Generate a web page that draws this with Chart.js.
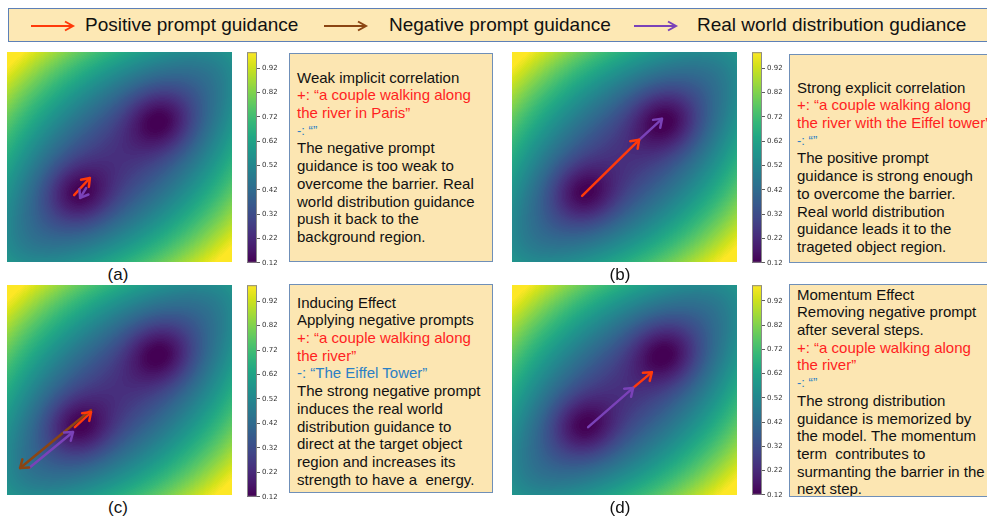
<!DOCTYPE html>
<html><head><meta charset="utf-8">
<script src="https://cdn.jsdelivr.net/npm/chart.js@4.4.1/dist/chart.umd.min.js"></script>
<style>
body{margin:0;width:987px;height:518px;overflow:hidden;position:relative;background:#fff;font-family:"Liberation Sans",Arial,Helvetica,sans-serif;}
.legend{position:absolute;left:8px;top:8px;width:1000px;height:34px;box-sizing:border-box;background:#fde8b4;border:1.5px solid #5d80b6;}
.item{position:absolute;top:8px;height:33px;line-height:33px;font-size:19px;color:#111;white-space:nowrap;}
.box{position:absolute;background:#fce6b2;border:1.5px solid #6f8fb8;font-size:15px;line-height:17.7px;color:#111;white-space:pre;box-sizing:border-box;padding-left:7px;overflow:hidden;}
.red{color:#ff1f1f}.blue{color:#2b80c5}.small{font-size:13px}
.tag{position:absolute;font-size:17px;width:40px;text-align:center;margin-left:-20px;line-height:18px;color:#111;}
canvas{position:absolute;}
svg{position:absolute;}
</style></head><body>
<div class="legend"></div>
<script>
// ---- data ----
const legendLabels = ['Positive prompt guidance', 'Negative prompt guidance', 'Real world distribution gudiance'];
const panelTags = ['(a)', '(b)', '(c)', '(d)'];
const colorbarTicks = [0.12, 0.22, 0.32, 0.42, 0.52, 0.62, 0.72, 0.82, 0.92];
const colorbarRange = [0.12, 0.985];

// energy landscape: a diagonal valley with two wells
const wellX = [-1.1, 1.1];
const wellY = [-1.05, 1.05];
const wellDepth = [0.17, 0.18];
const wellWidth = [0.6, 0.62];
const valleyFloor = 0.25;
const valleyWallSlope = 0.24;
const valleyRise = 0.018;
const contourStep = 0.01;

// guidance vectors per panel (a, b, c, d), in landscape coordinates
const positiveFrom = [[-1.21, -1.09], [-1.13, -1.11], [-1.19, -1.06], [0.23, 0.06]];
const positiveTo   = [[-0.79, -0.60], [0.39, 0.49], [-0.76, -0.63], [0.73, 0.51]];
const negativeFrom = [null, null, [-0.76, -0.57], null];
const negativeTo   = [null, null, [-2.65, -2.23], null];
const realFrom     = [[-0.89, -0.89], [0.39, 0.49], [-2.41, -2.23], [-0.97, -1.06]];
const realTo       = [[-1.05, -1.17], [1.00, 1.09], [-1.24, -1.20], [0.23, 0.06]];

// caption text per panel: [style, text]
const captionA = [['', 'Weak implicit correlation'], ['red', '+: \u201ca couple walking along'], ['red', 'the river in Paris\u201d'], ['blue small', '-: \u201c\u201d'],
  ['', 'The negative prompt'], ['', 'guidance is too weak to'], ['', 'overcome the barrier. Real'], ['', 'world distribution guidance'], ['', 'push it back to the'], ['', 'background region.']];
const captionB = [['', 'Strong explicit correlation'], ['red', '+: \u201ca couple walking along'], ['red', 'the river with the Eiffel tower\u201d'], ['blue small', '-: \u201c\u201d'],
  ['', 'The positive prompt'], ['', 'guidance is strong enough'], ['', 'to overcome the barrier.'], ['', 'Real world distribution'], ['', 'guidance leads it to the'], ['', 'trageted object region.']];
const captionC = [['', 'Inducing Effect'], ['', 'Applying negative prompts'], ['red', '+: \u201ca couple walking along'], ['red', 'the river\u201d'], ['blue', '-: \u201cThe Eiffel Tower\u201d'],
  ['', 'The strong negative prompt'], ['', 'induces the real world'], ['', 'distribution guidance to'], ['', 'direct at the target object'], ['', 'region and increases its'], ['', 'strength to have a  energy.']];
const captionD = [['', 'Momentum Effect'], ['', 'Removing negative prompt'], ['', 'after several steps.'], ['red', '+: \u201ca couple walking along'], ['red', 'the river\u201d'], ['blue small', '-: \u201c\u201d'],
  ['', 'The strong distribution'], ['', 'guidance is memorized by'], ['', 'the model. The momentum'], ['', 'term  contributes to'], ['', 'surmanting the barrier in the'], ['', 'next step.']];

// ---- layout & style ----
const guideColors = ['#ff3a0a', '#8b4513', '#7a42b8'];
const panelLayout = [
  {map: [7, 52, 225, 210], bar: [247, 52, 211], box: [289, 53, 204, 209, 14.6], tag: [118, 266], caption: captionA},
  {map: [512, 52, 225, 210], bar: [752, 52, 211], box: [789, 54, 215, 209, 23.6], tag: [620, 266], caption: captionB},
  {map: [7, 285, 225, 210], bar: [247, 285, 212], box: [289, 284, 204, 209, 8.6], tag: [118, 499], caption: captionC},
  {map: [512, 285, 225, 210], bar: [752, 285, 210], box: [789, 284, 215, 213, 0.6], tag: [620, 499], caption: captionD}
];
// page x of each legend arrow (start, end) and of its label
const legendArrowX = [[31, 73], [324, 366], [634, 676]];
const legendTextX = [85, 389, 697];

const viridisStops = ['#440154', '#481a6c', '#472f7d', '#414487', '#39568c', '#31688e', '#2a788e', '#23888e', '#1f988b',
  '#22a884', '#35b779', '#54c568', '#7ad151', '#a5db36', '#d2e21b', '#fde725'];
const viridisRGB = viridisStops.map(h => [1, 3, 5].map(i => parseInt(h.substr(i, 2), 16)));
function viridis(t) {
  t = Math.min(1, Math.max(0, t));
  const f = t * (viridisRGB.length - 1), i = Math.min(viridisRGB.length - 2, Math.floor(f)), u = f - i;
  const a = viridisRGB[i], b = viridisRGB[i + 1];
  return [a[0] + (b[0] - a[0]) * u, a[1] + (b[1] - a[1]) * u, a[2] + (b[2] - a[2]) * u];
}

function energy(x, y) {
  const d = (x - y) / Math.SQRT2, s = (x + y) / Math.SQRT2;
  let v = valleyFloor + valleyWallSlope * (Math.sqrt(d * d + 1) - 1) + valleyRise * s * s;
  for (let i = 0; i < wellX.length; i++) {
    const r2 = (x - wellX[i]) ** 2 + (y - wellY[i]) ** 2;
    v -= wellDepth[i] * Math.exp(-r2 / (2 * wellWidth[i] ** 2));
  }
  return v;
}

// ---- legend ----
const svgNS = 'http://www.w3.org/2000/svg';
legendLabels.forEach((label, i) => {
  const [x0, x1] = legendArrowX[i];
  const L = x1 - x0;
  const svg = document.createElementNS(svgNS, 'svg');
  svg.setAttribute('width', L + 4); svg.setAttribute('height', 20);
  svg.style.left = x0 + 'px'; svg.style.top = '16px';
  svg.innerHTML = `<line x1="0" y1="10" x2="${L}" y2="10" stroke="${guideColors[i]}" stroke-width="2"/>` +
    `<polyline points="${L - 8},5.5 ${L},10 ${L - 8},14.5" fill="none" stroke="${guideColors[i]}" stroke-width="2"/>`;
  document.body.appendChild(svg);
  const t = document.createElement('div');
  t.className = 'item'; t.textContent = label; t.style.left = legendTextX[i] + 'px';
  document.body.appendChild(t);
});

// ---- plugins ----
const fieldPlugin = {
  id: 'field',
  beforeDatasetsDraw(chart) {
    const {ctx, chartArea: a, scales: {x, y}} = chart;
    const w = Math.round(a.right - a.left), h = Math.round(a.bottom - a.top);
    const img = ctx.createImageData(w, h);
    const lo = colorbarRange[0], hi = colorbarRange[1];
    for (let py = 0; py < h; py++) {
      const vy = y.getValueForPixel(a.top + py + 0.5);
      for (let px = 0; px < w; px++) {
        const vx = x.getValueForPixel(a.left + px + 0.5);
        let v = energy(vx, vy);
        v = lo + (Math.floor((v - lo) / contourStep) + 0.5) * contourStep;
        const c = viridis((v - lo) / (hi - lo));
        const k = (py * w + px) * 4;
        img.data[k] = c[0]; img.data[k + 1] = c[1]; img.data[k + 2] = c[2]; img.data[k + 3] = 255;
      }
    }
    ctx.putImageData(img, Math.round(a.left), Math.round(a.top));
  }
};

const arrowHeadPlugin = {
  id: 'arrowHeads',
  afterDatasetsDraw(chart) {
    const ctx = chart.ctx;
    chart.data.datasets.forEach((ds, i) => {
      const pts = chart.getDatasetMeta(i).data;
      if (pts.length < 2) return;
      const p0 = pts[0], p1 = pts[1];
      const ang = Math.atan2(p1.y - p0.y, p1.x - p0.x);
      const len = 9, spread = Math.PI / 5;
      ctx.save();
      ctx.strokeStyle = ds.borderColor; ctx.lineWidth = ds.borderWidth; ctx.lineCap = 'round'; ctx.lineJoin = 'round';
      ctx.beginPath();
      ctx.moveTo(p1.x - len * Math.cos(ang - spread), p1.y - len * Math.sin(ang - spread));
      ctx.lineTo(p1.x, p1.y);
      ctx.lineTo(p1.x - len * Math.cos(ang + spread), p1.y - len * Math.sin(ang + spread));
      ctx.stroke();
      ctx.restore();
    });
  }
};

const barPlugin = {
  id: 'colorbar',
  beforeDatasetsDraw(chart) {
    const {ctx, chartArea: a, scales: {y}} = chart;
    const lo = colorbarRange[0], hi = colorbarRange[1];
    for (let py = Math.floor(a.top); py < Math.ceil(a.bottom); py++) {
      const v = y.getValueForPixel(py + 0.5);
      const c = viridis((v - lo) / (hi - lo));
      ctx.fillStyle = `rgb(${c[0] | 0},${c[1] | 0},${c[2] | 0})`;
      ctx.fillRect(a.left, py, a.right - a.left, 1);
    }
    ctx.strokeStyle = '#8a8a8a'; ctx.lineWidth = 1;
    ctx.strokeRect(a.left + 0.5, a.top + 0.5, a.right - a.left - 1, a.bottom - a.top - 1);
  }
};

function makeCanvas(left, top, w, h) {
  const c = document.createElement('canvas');
  c.width = w; c.height = h;
  c.style.left = left + 'px'; c.style.top = top + 'px';
  c.style.width = w + 'px'; c.style.height = h + 'px';
  document.body.appendChild(c);
  return c;
}

function segment(from, to, color) {
  return {data: [{x: from[0], y: from[1]}, {x: to[0], y: to[1]}], showLine: true, borderColor: color,
    borderWidth: 2.5, pointRadius: 0, borderCapStyle: 'round', clip: false};
}

panelLayout.forEach((p, k) => {
  // landscape with guidance arrows
  const [mx, my, mw, mh] = p.map;
  const datasets = [];
  if (negativeFrom[k]) datasets.push(segment(negativeFrom[k], negativeTo[k], guideColors[1]));
  datasets.push(segment(realFrom[k], realTo[k], guideColors[2]));
  datasets.push(segment(positiveFrom[k], positiveTo[k], guideColors[0]));
  new Chart(makeCanvas(mx, my, mw, mh), {
    type: 'scatter',
    data: {datasets},
    options: {
      responsive: false, animation: false, devicePixelRatio: 1,
      layout: {padding: 0},
      plugins: {legend: {display: false}, tooltip: {enabled: false}},
      scales: {x: {type: 'linear', min: -3, max: 3, display: false}, y: {type: 'linear', min: -3, max: 3, display: false}}
    },
    plugins: [fieldPlugin, arrowHeadPlugin]
  });

  // colour bar
  const [bx, by, bh] = p.bar;
  new Chart(makeCanvas(bx, by - 6, 45, bh + 12), {
    type: 'scatter',
    data: {datasets: []},
    options: {
      responsive: false, animation: false, devicePixelRatio: 1,
      layout: {padding: {top: 6, bottom: 6, left: 0, right: 0}},
      plugins: {legend: {display: false}, tooltip: {enabled: false}},
      scales: {
        x: {type: 'linear', min: 0, max: 1, display: false},
        y: {
          type: 'linear', position: 'right', min: colorbarRange[0], max: colorbarRange[1],
          afterBuildTicks: s => { s.ticks = colorbarTicks.map(v => ({value: v})); },
          afterFit: s => { s.width = 35; },
          ticks: {autoSkip: false, font: {size: 7, family: 'DejaVu Sans'}, color: '#333', padding: 2, callback: v => Number(v).toFixed(2)},
          grid: {drawOnChartArea: false, tickLength: 3, color: '#333', lineWidth: 0.8},
          border: {display: false}
        }
      }
    },
    plugins: [barPlugin]
  });

  // caption box
  const [tx, ty, tw, th, pt] = p.box;
  const box = document.createElement('div');
  box.className = 'box';
  Object.assign(box.style, {left: tx + 'px', top: ty + 'px', width: tw + 'px', height: th + 'px', paddingTop: pt + 'px'});
  box.innerHTML = p.caption.map(([cls, txt]) => `<div class="${cls}">${txt}</div>`).join('');
  document.body.appendChild(box);

  // panel tag
  const tag = document.createElement('div');
  tag.className = 'tag'; tag.textContent = panelTags[k];
  tag.style.left = p.tag[0] + 'px'; tag.style.top = p.tag[1] + 'px';
  document.body.appendChild(tag);
});
</script>
</body></html>
